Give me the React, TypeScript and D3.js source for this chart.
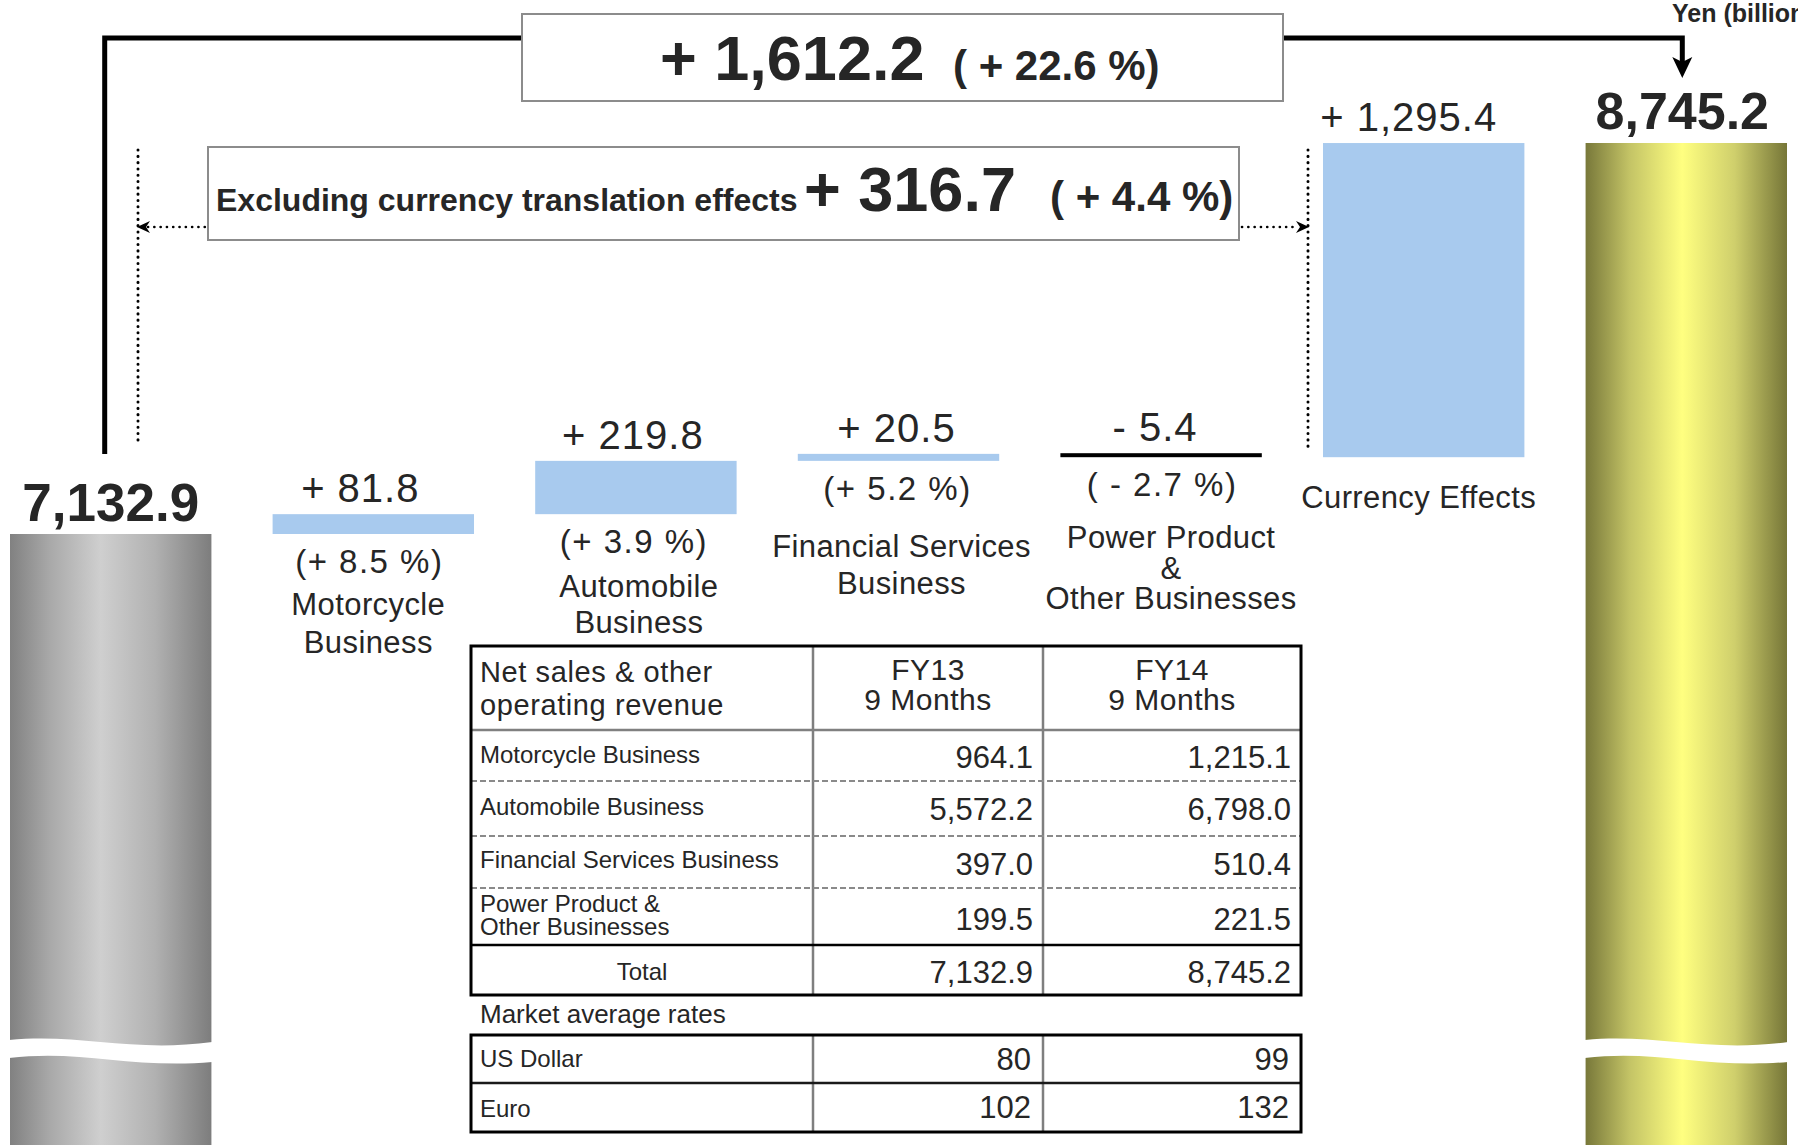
import * as d3 from 'd3';

// waterfall steps, left to right
const steps = ['FY13', 'Motorcycle', 'Automobile', 'Financial', 'Power', 'Currency', 'FY14'];
const totals = [7132.9, 8745.2];
const deltas = [81.8, 219.8, 20.5, -5.4, 1295.4];
const deltaPct = [8.5, 3.9, 5.2, -2.7, null];
const deltaNames = [
  ['Motorcycle', 'Business'],
  ['Automobile', 'Business'],
  ['Financial Services', 'Business'],
  ['Power Product', '&', 'Other Businesses'],
  ['Currency Effects'],
];
const totalChange = 1612.2;
const totalChangePct = 22.6;
const exclCurrency = 316.7;
const exclCurrencyPct = 4.4;

// table
const segments = [['Motorcycle Business'], ['Automobile Business'], ['Financial Services Business'], ['Power Product &', 'Other Businesses']];
const fy13Sales = [964.1, 5572.2, 397.0, 199.5];
const fy14Sales = [1215.1, 6798.0, 510.4, 221.5];
const currencies = ['US Dollar', 'Euro'];
const fy13Rates = [80, 102];
const fy14Rates = [99, 132];

const W = 1798;
const H = 1145;
const FONT = '"Liberation Sans", Arial, sans-serif';
const INK = '#262626';

// label nudges (text only)
const valueDx = [-13, -3, -2, -6, -15];
const pctDx = [-4, -2, -1, 1];
const nameDx = [-5, 3, 3, 10, -5];
const nameOffset = [42, 44, 57, 52, 51];
const nameLeading = [38, 36, 37, 30.5, 0];

const fmt1 = d3.format(',.1f');
const signed = (v: number) => (v < 0 ? '- ' : '+ ') + fmt1(Math.abs(v));
const pctText = (v: number) => (v < 0 ? `( - ${Math.abs(v).toFixed(1)} %)` : `(+ ${v.toFixed(1)} %)`);

const App = () => {
  const x = d3.scaleBand<string>().domain(steps).range([10, 1787]).paddingInner(0.233).paddingOuter(0);
  const y = d3.scaleLinear().domain([totals[0], totals[1]]).range([534, 143]);
  const bw = x.bandwidth();
  const cx = (k: string) => (x(k) || 0) + bw / 2;

  const cum = [totals[0]];
  deltas.forEach(d => cum.push(cum[cum.length - 1] + d));

  const bars = deltas.map((d, i) => {
    const a = y(cum[i]);
    const b = y(cum[i + 1]);
    const bottom = Math.max(a, b);
    let h = Math.abs(a - b);
    if (d < 0) h = 4;
    else h = Math.max(h, 7);
    return { key: steps[i + 1], d, top: bottom - h, bottom, h, neg: d < 0 };
  });

  const wave = (x0: number, w: number) => {
    const x1 = x0 + w;
    return `M${x0 - 1},1040 C${x0 + 0.35 * w},1033 ${x0 + 0.6 * w},1053 ${x1 + 1},1042 L${x1 + 1},1062 C${x0 + 0.6 * w},1069 ${x0 + 0.35 * w},1049 ${x0 - 1},1058 Z`;
  };

  const tx = [471, 813, 1043, 1301];
  const rowLines = [730, 781, 836, 888, 945];
  const rowLabelY = [[763], [815], [868], [912, 935]];
  const rowNumY = [768, 820, 875, 930];
  const rateTop = 1035;
  const rateMid = 1083;
  const rateBottom = 1132;

  const dots = { stroke: '#000', strokeWidth: 3, strokeLinecap: 'round' as const, strokeDasharray: '0.1 6.2' };

  return (
    <svg width={W} height={H} style={{ position: 'absolute', left: 0, top: 0, display: 'block', background: '#fff' }} fontFamily={FONT}>
      <defs>
        <linearGradient id="grayCyl" x1="0" x2="1" y1="0" y2="0">
          <stop offset="0" stopColor="#818181" />
          <stop offset="0.2" stopColor="#a9a9a9" />
          <stop offset="0.45" stopColor="#cfcfcf" />
          <stop offset="0.72" stopColor="#b1b1b1" />
          <stop offset="1" stopColor="#7d7d7d" />
        </linearGradient>
        <linearGradient id="goldCyl" x1="0" x2="1" y1="0" y2="0">
          <stop offset="0" stopColor="#78783a" />
          <stop offset="0.22" stopColor="#c4c466" />
          <stop offset="0.48" stopColor="#ffff80" />
          <stop offset="0.74" stopColor="#cfcf6c" />
          <stop offset="1" stopColor="#767638" />
        </linearGradient>
      </defs>

      {/* total cylinders */}
      <rect x={x('FY13')} y={y(totals[0])} width={bw} height={H - y(totals[0])} fill="url(#grayCyl)" />
      <rect x={x('FY14')} y={y(totals[1])} width={bw} height={H - y(totals[1])} fill="url(#goldCyl)" />
      <path d={wave(x('FY13') || 0, bw)} fill="#fff" />
      <path d={wave(x('FY14') || 0, bw)} fill="#fff" />
      <text x={cx('FY13')} y={y(totals[0]) - 13} textAnchor="middle" fontSize={53} fontWeight="bold" fill={INK}>{fmt1(totals[0])}</text>
      <text x={cx('FY14') - 4} y={y(totals[1]) - 14} textAnchor="middle" fontSize={52} fontWeight="bold" fill={INK}>{fmt1(totals[1])}</text>

      {/* bracket arrow for the total change */}
      <path d={`M${cx('FY13') - 6},454 V38 H${cx('FY14') - 4} V62`} fill="none" stroke="#000" strokeWidth={5} />
      <polygon points={`${cx('FY14') - 14},57 ${cx('FY14') - 4},62 ${cx('FY14') + 6},57 ${cx('FY14') - 4},78`} fill="#000" />

      {/* dotted brackets */}
      <line x1={138} x2={138} y1={150} y2={446} {...dots} />
      <line x1={1308} x2={1308} y1={150} y2={450} {...dots} />
      <line x1={148} x2={206} y1={227} y2={227} {...dots} strokeWidth={2.6} />
      <line x1={1242} x2={1298} y1={227} y2={227} {...dots} strokeWidth={2.6} />
      <polygon points="137,227 150,221 146,227 150,233" fill="#000" />
      <polygon points="1309,227 1296,221 1300,227 1296,233" fill="#000" />

      {/* top box */}
      <rect x={522} y={14} width={761} height={87} fill="#fff" stroke="#8c8c8c" strokeWidth={2} />
      <text y={80} fontWeight="bold" fill={INK}>
        <tspan x={660} fontSize={63}>{signed(totalChange)}</tspan>
        <tspan x={953} fontSize={42}>{`( + ${totalChangePct.toFixed(1)} %)`}</tspan>
      </text>

      <rect x={208} y={147} width={1031} height={93} fill="#fff" stroke="#8c8c8c" strokeWidth={2} />
      <text y={211} fontWeight="bold" fill={INK}>
        <tspan x={216} fontSize={32}>Excluding currency translation effects</tspan>
        <tspan x={804} fontSize={63}>{signed(exclCurrency)}</tspan>
        <tspan x={1050} fontSize={42}>{`( + ${exclCurrencyPct.toFixed(1)} %)`}</tspan>
      </text>

      <text x={1672} y={22} fontSize={25} fontWeight="bold" fill={INK}>Yen (billions)</text>

      {/* delta bars */}
      {bars.map((b, i) => (
        <g key={b.key}>
          <rect x={x(b.key)} y={b.top} width={bw} height={b.h} fill={b.neg ? '#000' : '#a8caee'} />
          <text x={cx(b.key) + valueDx[i]} y={b.top - 12} textAnchor="middle" fontSize={40} letterSpacing={1} fill={INK}>
            {signed(b.d)}
          </text>
          {deltaPct[i] !== null && (
            <text x={cx(b.key) + pctDx[i]} y={b.bottom + 39} textAnchor="middle" fontSize={33} letterSpacing={1.5} fill={INK}>
              {pctText(deltaPct[i] as number)}
            </text>
          )}
          {deltaNames[i].map((line, j) => {
            const base = deltaPct[i] !== null ? b.bottom + 39 : b.bottom;
            return (
              <text key={j} x={cx(b.key) + nameDx[i]} y={base + nameOffset[i] + j * nameLeading[i]} textAnchor="middle" fontSize={31} letterSpacing={0.4} fill={INK}>
                {line}
              </text>
            );
          })}
        </g>
      ))}

      {/* sales table */}
      <g fill={INK}>
        <text x={480} fontSize={29} letterSpacing={0.6}>
          <tspan x={480} y={682}>Net sales &amp; other</tspan>
          <tspan x={480} y={715}>operating revenue</tspan>
        </text>
        {['FY13', 'FY14'].map((fy, c) => (
          <text key={fy} textAnchor="middle" fontSize={30} letterSpacing={0.5}>
            <tspan x={(tx[c + 1] + tx[c + 2]) / 2} y={680}>{fy}</tspan>
            <tspan x={(tx[c + 1] + tx[c + 2]) / 2} y={710}>9 Months</tspan>
          </text>
        ))}
        {segments.map((seg, r) => (
          <g key={r}>
            {seg.map((line, j) => (
              <text key={j} x={480} y={rowLabelY[r][j]} fontSize={24}>{line}</text>
            ))}
            <text x={tx[2] - 10} y={rowNumY[r]} textAnchor="end" fontSize={31}>{fmt1(fy13Sales[r])}</text>
            <text x={tx[3] - 10} y={rowNumY[r]} textAnchor="end" fontSize={31}>{fmt1(fy14Sales[r])}</text>
          </g>
        ))}
        <text x={(tx[0] + tx[1]) / 2} y={980} textAnchor="middle" fontSize={24}>Total</text>
        <text x={tx[2] - 10} y={983} textAnchor="end" fontSize={31}>{fmt1(totals[0])}</text>
        <text x={tx[3] - 10} y={983} textAnchor="end" fontSize={31}>{fmt1(totals[1])}</text>

        <text x={480} y={1023} fontSize={26}>Market average rates</text>
        {currencies.map((cur, r) => (
          <g key={cur}>
            <text x={480} y={[1067, 1117][r]} fontSize={24}>{cur}</text>
            <text x={tx[2] - 12} y={[1070, 1118][r]} textAnchor="end" fontSize={31}>{fy13Rates[r]}</text>
            <text x={tx[3] - 12} y={[1070, 1118][r]} textAnchor="end" fontSize={31}>{fy14Rates[r]}</text>
          </g>
        ))}
      </g>

      <g fill="none">
        {[tx[1], tx[2]].map(v => (
          <line key={v} x1={v} x2={v} y1={646} y2={995} stroke="#7f7f7f" strokeWidth={2.5} />
        ))}
        <line x1={tx[0]} x2={tx[3]} y1={rowLines[0]} y2={rowLines[0]} stroke="#808080" strokeWidth={2.5} />
        {rowLines.slice(1, 4).map(v => (
          <line key={v} x1={tx[0]} x2={tx[3]} y1={v} y2={v} stroke="#8a8a8a" strokeWidth={2} strokeDasharray="6 3" />
        ))}
        <line x1={tx[0]} x2={tx[3]} y1={rowLines[4]} y2={rowLines[4]} stroke="#000" strokeWidth={2.5} />
        <rect x={tx[0]} y={646} width={tx[3] - tx[0]} height={995 - 646} stroke="#000" strokeWidth={3} />

        {[tx[1], tx[2]].map(v => (
          <line key={v} x1={v} x2={v} y1={rateTop} y2={rateBottom} stroke="#7f7f7f" strokeWidth={2.5} />
        ))}
        <line x1={tx[0]} x2={tx[3]} y1={rateMid} y2={rateMid} stroke="#1a1a1a" strokeWidth={2.5} />
        <rect x={tx[0]} y={rateTop} width={tx[3] - tx[0]} height={rateBottom - rateTop} stroke="#000" strokeWidth={3} />
      </g>
    </svg>
  );
};

export default App;
